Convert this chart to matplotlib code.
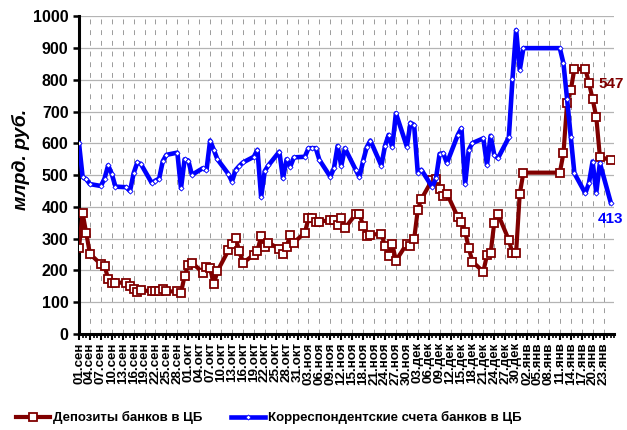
import datetime as dt

import matplotlib

matplotlib.use("Agg")
import matplotlib.dates as mdates
import matplotlib.pyplot as plt
from matplotlib.ticker import MultipleLocator

plt.rcParams["font.family"] = ["Liberation Sans", "DejaVu Sans"]
plt.rcParams["font.weight"] = "bold"

# Reporting dates (working days, plus the New Year balance)
dates = [
    "2009-09-01", "2009-09-02", "2009-09-03", "2009-09-04", "2009-09-07",
    "2009-09-08", "2009-09-09", "2009-09-10", "2009-09-11", "2009-09-14",
    "2009-09-15", "2009-09-16", "2009-09-17", "2009-09-18", "2009-09-21",
    "2009-09-22", "2009-09-23", "2009-09-24", "2009-09-25", "2009-09-28",
    "2009-09-29", "2009-09-30", "2009-10-01", "2009-10-02", "2009-10-05",
    "2009-10-06", "2009-10-07", "2009-10-08", "2009-10-09", "2009-10-12",
    "2009-10-13", "2009-10-14", "2009-10-15", "2009-10-16", "2009-10-19",
    "2009-10-20", "2009-10-21", "2009-10-22", "2009-10-23", "2009-10-26",
    "2009-10-27", "2009-10-28", "2009-10-29", "2009-10-30", "2009-11-02",
    "2009-11-03", "2009-11-04", "2009-11-05", "2009-11-06", "2009-11-09",
    "2009-11-10", "2009-11-11", "2009-11-12", "2009-11-13", "2009-11-16",
    "2009-11-17", "2009-11-18", "2009-11-19", "2009-11-20", "2009-11-23",
    "2009-11-24", "2009-11-25", "2009-11-26", "2009-11-27", "2009-11-30",
    "2009-12-01", "2009-12-02", "2009-12-03", "2009-12-04", "2009-12-07",
    "2009-12-08", "2009-12-09", "2009-12-10", "2009-12-11", "2009-12-14",
    "2009-12-15", "2009-12-16", "2009-12-17", "2009-12-18", "2009-12-21",
    "2009-12-22", "2009-12-23", "2009-12-24", "2009-12-25", "2009-12-28",
    "2009-12-29", "2009-12-30", "2009-12-31", "2010-01-01", "2010-01-11",
    "2010-01-12", "2010-01-13", "2010-01-14", "2010-01-15", "2010-01-18",
    "2010-01-19", "2010-01-20", "2010-01-21", "2010-01-22", "2010-01-25",
]

# Депозиты банков в ЦБ, млрд. руб.
deposits = [
    272, 380, 317, 252, 220, 215, 174, 162, 162, 161,
    150, 142, 132, 137, 135, 135, 135, 143, 134, 134,
    129, 184, 217, 225, 193, 212, 207, 156, 198, 263,
    282, 302, 261, 223, 250, 262, 309, 275, 288, 267,
    252, 275, 312, 288, 319, 364, 364, 354, 354, 358,
    359, 342, 364, 333, 378, 378, 341, 309, 313, 315,
    277, 246, 284, 231, 284, 277, 298, 391, 425, 486,
    487, 457, 435, 442, 368, 354, 322, 270, 228, 196,
    249, 254, 351, 378, 296, 254, 256, 441, 508, 508,
    569, 728, 768, 834, 834, 791, 739, 684, 558, 547,
]

# Корреспондентские счета банков в ЦБ, млрд. руб.
corr_accounts = [
    600, 494, 487, 472, 466, 489, 531, 504, 464, 462,
    450, 506, 540, 535, 475, 483, 489, 544, 564, 571,
    459, 550, 546, 501, 522, 516, 609, 580, 550, 504,
    480, 516, 529, 540, 558, 580, 431, 513, 531, 574,
    490, 550, 527, 556, 558, 585, 585, 585, 548, 495,
    522, 592, 529, 585, 516, 494, 545, 588, 609, 530,
    592, 627, 588, 695, 590, 665, 658, 508, 517, 462,
    490, 567, 569, 538, 627, 648, 472, 580, 601, 616,
    532, 624, 564, 553, 619, 802, 957, 831, 900, 900,
    852, 739, 621, 506, 443, 475, 543, 445, 538, 413,
]

month_names = {9: "сен", 10: "окт", 11: "ноя", 12: "дек", 1: "янв"}

RED = "#800000"
BLUE = "#0000FF"

x = [dt.datetime.strptime(d, "%Y-%m-%d") for d in dates]
start = dt.datetime(2009, 9, 1)
end = dt.datetime(2010, 1, 26)
tick_dates = [start + dt.timedelta(days=3 * i) for i in range(49)]
tick_labels = [f"{d.day:02d}.{month_names[d.month]}" for d in tick_dates]

fig = plt.figure(figsize=(6.27, 4.30), dpi=100)
ax = fig.add_axes([0.126, 0.2233, 0.854, 0.7386])

ax.plot(x, deposits, color=RED, linewidth=3.0, marker="s", markersize=5.5,
        markerfacecolor="white", markeredgecolor=RED, markeredgewidth=1.3,
        label="Депозиты банков в ЦБ", zorder=3)
ax.plot(x, corr_accounts, color=BLUE, linewidth=3.3, marker="D", markersize=2.6,
        markerfacecolor="white", markeredgecolor=BLUE, markeredgewidth=0.6,
        label="Корреспондентские счета банков в ЦБ", zorder=4)

ax.annotate(f"{deposits[-1]}", xy=(x[-1], deposits[-1]), xytext=(0, 55),
            textcoords="offset points", ha="center", va="center",
            color=RED, fontsize=11, fontweight="bold")
ax.annotate(f"{corr_accounts[-1]}", xy=(x[-1], corr_accounts[-1]), xytext=(0, -12),
            textcoords="offset points", ha="center", va="center",
            color=BLUE, fontsize=11, fontweight="bold")

ax.set_xlim(start, end)
ax.set_ylim(0, 1000)
ax.yaxis.set_major_locator(MultipleLocator(100))
ax.set_xticks(tick_dates)
ax.set_xticklabels(tick_labels, rotation=90, fontsize=9.6, fontweight="bold")
ax.xaxis.set_minor_locator(mdates.DayLocator())
ax.tick_params(axis="y", labelsize=11.5, width=1.8, length=4, direction="out")
ax.tick_params(axis="x", which="major", width=1.5, length=4, pad=2)
ax.tick_params(axis="x", which="minor", width=1.2, length=3)

ax.grid(axis="y", color="#B4B4B4", linewidth=0.9)
ax.grid(axis="x", which="major", color="#9A9A9A", linewidth=0.7,
        linestyle=(0, (5, 6)))
ax.set_axisbelow(True)

for side in ("top", "right"):
    ax.spines[side].set_visible(False)
for side in ("left", "bottom"):
    ax.spines[side].set_linewidth(2.2)

fig.text(0.033, 0.63, "млрд. руб.", rotation=90, ha="center", va="center",
         fontsize=14, fontweight="bold", style="italic")

fig.legend(loc="center left", bbox_to_anchor=(0.025, 0.028), ncol=2,
           frameon=False, fontsize=9.5, handlelength=2.6, handletextpad=0.2,
           columnspacing=2.2, borderaxespad=0, borderpad=0)

fig.savefig("out.png", dpi=100, facecolor="white")
